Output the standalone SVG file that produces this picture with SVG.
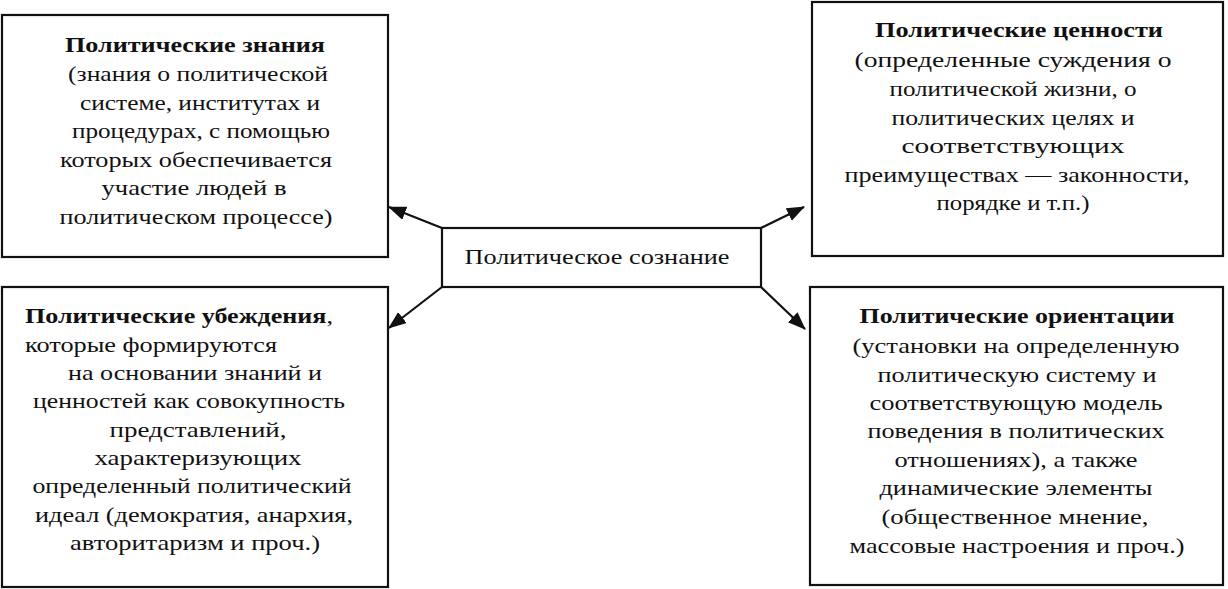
<svg xmlns="http://www.w3.org/2000/svg" width="1228" height="589" viewBox="0 0 1228 589">
<style>
.box{fill:#fff;stroke:#111;stroke-width:2.2}
text{font-family:"Liberation Serif","Times New Roman",serif;font-size:21px;fill:#111}
.c{text-anchor:middle}
.b{font-weight:bold}
.con{stroke:#111;stroke-width:2.2;fill:none}
</style>
<defs>
<marker id="ah" markerUnits="userSpaceOnUse" markerWidth="20" markerHeight="16" refX="17" refY="7" orient="auto">
<path d="M0,0 L18,7 L0,14 Z" fill="#111"/>
</marker>
</defs>
<rect width="1228" height="589" fill="#fff"/>
<g id="connectors">
<line class="con" x1="442" y1="228" x2="389" y2="207" marker-end="url(#ah)"/>
<line class="con" x1="442" y1="287" x2="389" y2="328" marker-end="url(#ah)"/>
<line class="con" x1="761" y1="228" x2="804" y2="207" marker-end="url(#ah)"/>
<line class="con" x1="761" y1="287" x2="805" y2="329" marker-end="url(#ah)"/>
</g>
<g id="n-center">
<rect class="box" x="442" y="228" width="319" height="59"/>
<text class="c" x="597" y="264" textLength="265" lengthAdjust="spacingAndGlyphs">Политическое сознание</text>
</g>
<g id="n-knowledge">
<rect class="box" x="2" y="15" width="386" height="242"/>
<text class="c b" x="195" y="52" textLength="260" lengthAdjust="spacingAndGlyphs">Политические знания</text>
<text class="c" x="198" y="81" textLength="260" lengthAdjust="spacingAndGlyphs">(знания о политической</text>
<text class="c" x="200" y="110" textLength="240" lengthAdjust="spacingAndGlyphs">системе, институтах и</text>
<text class="c" x="201" y="138" textLength="258" lengthAdjust="spacingAndGlyphs">процедурах, с помощью</text>
<text class="c" x="196" y="167" textLength="272" lengthAdjust="spacingAndGlyphs">которых обеспечивается</text>
<text class="c" x="194" y="195" textLength="185" lengthAdjust="spacingAndGlyphs">участие людей в</text>
<text class="c" x="196" y="224" textLength="273" lengthAdjust="spacingAndGlyphs">политическом процессе)</text>
</g>
<g id="n-values">
<rect class="box" x="812" y="2" width="411" height="254"/>
<text class="c b" x="1019" y="37" textLength="288" lengthAdjust="spacingAndGlyphs">Политические ценности</text>
<text class="c" x="1013" y="67" textLength="317" lengthAdjust="spacingAndGlyphs">(определенные суждения о</text>
<text class="c" x="1013" y="96" textLength="247" lengthAdjust="spacingAndGlyphs">политической жизни, о</text>
<text class="c" x="1013" y="125" textLength="243" lengthAdjust="spacingAndGlyphs">политических целях и</text>
<text class="c" x="1013" y="153" textLength="223" lengthAdjust="spacingAndGlyphs">соответствующих</text>
<text class="c" x="1017" y="182" textLength="345" lengthAdjust="spacingAndGlyphs">преимуществах — законности,</text>
<text class="c" x="1013" y="210" textLength="153" lengthAdjust="spacingAndGlyphs">порядке и т.п.)</text>
</g>
<g id="n-beliefs">
<rect class="box" x="2" y="287" width="386" height="300"/>
<text x="25" y="323" textLength="308" lengthAdjust="spacingAndGlyphs"><tspan class="b">Политические убеждения</tspan>,</text>
<text x="25" y="352" textLength="252" lengthAdjust="spacingAndGlyphs">которые формируются</text>
<text class="c" x="195" y="380" textLength="254" lengthAdjust="spacingAndGlyphs">на основании знаний и</text>
<text class="c" x="189" y="408" textLength="312" lengthAdjust="spacingAndGlyphs">ценностей как совокупность</text>
<text class="c" x="198" y="437" textLength="177" lengthAdjust="spacingAndGlyphs">представлений,</text>
<text class="c" x="198" y="465" textLength="207" lengthAdjust="spacingAndGlyphs">характеризующих</text>
<text class="c" x="192" y="493" textLength="319" lengthAdjust="spacingAndGlyphs">определенный политический</text>
<text class="c" x="194" y="522" textLength="318" lengthAdjust="spacingAndGlyphs">идеал (демократия, анархия,</text>
<text class="c" x="195" y="550" textLength="250" lengthAdjust="spacingAndGlyphs">авторитаризм и проч.)</text>
</g>
<g id="n-orient">
<rect class="box" x="810" y="287" width="413" height="298"/>
<text class="c b" x="1017" y="323" textLength="315" lengthAdjust="spacingAndGlyphs">Политические ориентации</text>
<text class="c" x="1016" y="353" textLength="327" lengthAdjust="spacingAndGlyphs">(установки на определенную</text>
<text class="c" x="1017" y="382" textLength="279" lengthAdjust="spacingAndGlyphs">политическую систему и</text>
<text class="c" x="1016" y="410" textLength="293" lengthAdjust="spacingAndGlyphs">соответствующую модель</text>
<text class="c" x="1016" y="438" textLength="297" lengthAdjust="spacingAndGlyphs">поведения в политических</text>
<text class="c" x="1016" y="467" textLength="243" lengthAdjust="spacingAndGlyphs">отношениях), а также</text>
<text class="c" x="1016" y="495" textLength="273" lengthAdjust="spacingAndGlyphs">динамические элементы</text>
<text class="c" x="1015" y="524" textLength="267" lengthAdjust="spacingAndGlyphs">(общественное мнение,</text>
<text class="c" x="1017" y="553" textLength="335" lengthAdjust="spacingAndGlyphs">массовые настроения и проч.)</text>
</g>
</svg>
